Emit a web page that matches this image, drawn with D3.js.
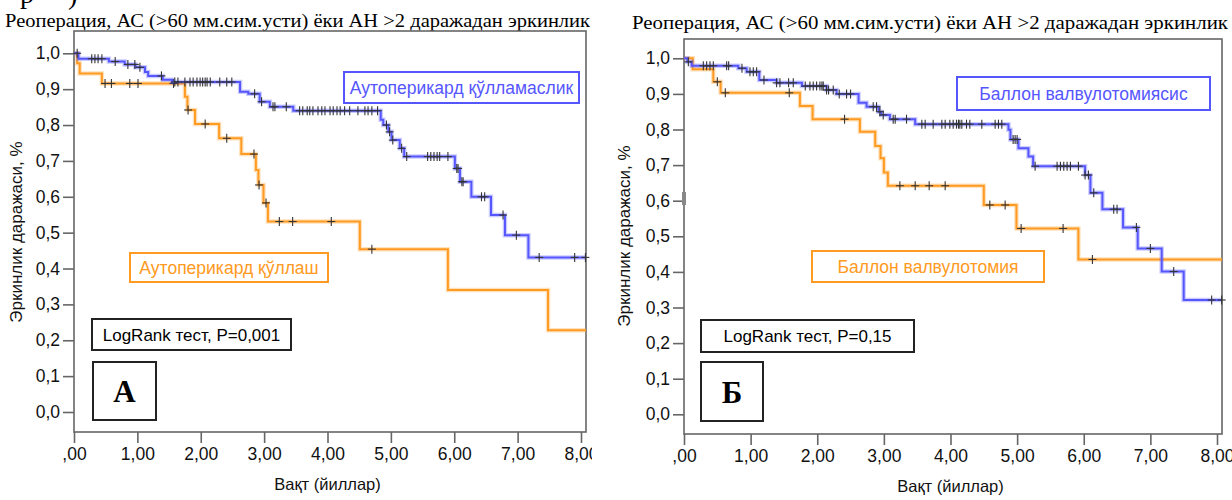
<!DOCTYPE html>
<html><head><meta charset="utf-8">
<script src="https://cdn.jsdelivr.net/npm/d3@7"></script>
<style>body{margin:0;background:#fff;} svg{display:block;}</style>
</head><body><svg id="c" width="1232" height="500"></svg>
<script>
// ---------- shared text / ticks ----------
const titleText = "Реоперация, АС (>60 мм.сим.усти) ёки АН >2 даражадан эркинлик";
const yTicks = [0, 0.1, 0.2, 0.3, 0.4, 0.5, 0.6, 0.7, 0.8, 0.9, 1.0];
const yTickLabels = ["0,0","0,1","0,2","0,3","0,4","0,5","0,6","0,7","0,8","0,9","1,0"];
const xTicks = [0, 1, 2, 3, 4, 5, 6, 7, 8];
const xTickLabels = [",00","1,00","2,00","3,00","4,00","5,00","6,00","7,00","8,00"];
const yAxisTitle = "Эркинлик даражаси, %";
const xAxisTitle = "Вақт (йиллар)";

// ---------- panel A ----------
const aBlueName = "Аутоперикард қўлламаслик";
const aOrangeName = "Аутоперикард қўллаш";
const aLogRank = "LogRank тест, P=0,001";
const aLetter = "А";
const aBlueTimes = [0.07, 0.55, 0.80, 0.97, 1.12, 1.17, 1.40, 1.55, 2.62, 2.75, 2.93, 3.09, 3.46, 4.84, 4.88, 4.96, 5.01, 5.14, 5.21, 6.01, 6.09, 6.27, 6.58, 6.80, 7.17];
const aBlueSurv  = [0.985, 0.977, 0.969, 0.961, 0.948, 0.937, 0.926, 0.920, 0.893, 0.887, 0.865, 0.851, 0.840, 0.815, 0.800, 0.781, 0.758, 0.735, 0.712, 0.679, 0.642, 0.600, 0.549, 0.493, 0.431];
const aBlueCens  = [0.05, 0.28, 0.33, 0.38, 0.44, 0.65, 0.85, 0.96, 1.04, 1.38, 1.59, 1.64, 1.75, 1.83, 1.88, 1.94, 1.99, 2.03, 2.07, 2.10, 2.15, 2.30, 2.41, 2.49, 2.85, 2.96, 3.14, 3.17, 3.35, 3.56, 3.61, 3.68, 3.72, 3.77, 3.85, 3.91, 3.96, 4.04, 4.09, 4.15, 4.20, 4.27, 4.35, 4.48, 4.59, 4.64, 4.70, 4.79, 4.93, 4.98, 5.03, 5.17, 5.25, 5.58, 5.63, 5.68, 5.73, 5.77, 5.90, 6.04, 6.06, 6.12, 6.14, 6.43, 6.48, 6.77, 6.98, 7.34, 7.90, 8.07];
const aOrangeTimes = [0.05, 0.09, 0.44, 1.75, 1.79, 1.91, 2.29, 2.64, 2.87, 2.91, 2.99, 3.06, 4.51, 5.90, 7.48];
const aOrangeSurv  = [0.972, 0.944, 0.916, 0.879, 0.842, 0.803, 0.763, 0.719, 0.675, 0.633, 0.583, 0.531, 0.454, 0.340, 0.228];
const aOrangeCens  = [0.49, 0.59, 0.88, 1.01, 1.57, 1.80, 2.07, 2.41, 2.84, 2.92, 3.03, 3.24, 3.45, 4.06, 4.70];

// ---------- panel B ----------
const bBlueName = "Баллон валвулотомиясис";
const bOrangeName = "Баллон валвулотомия";
const bLogRank = "LogRank тест, P=0,15";
const bLetter = "Б";
const bBlueTimes = [0.05, 0.115, 0.815, 0.94, 1.13, 1.39, 1.77, 2.14, 2.29, 2.62, 2.74, 2.92, 2.96, 3.09, 3.47, 4.87, 4.90, 5.02, 5.17, 5.24, 6.02, 6.10, 6.28, 6.59, 6.81, 7.17, 7.50];
const bBlueSurv  = [0.990, 0.979, 0.972, 0.962, 0.939, 0.931, 0.922, 0.911, 0.900, 0.875, 0.864, 0.850, 0.841, 0.829, 0.815, 0.799, 0.772, 0.747, 0.724, 0.697, 0.672, 0.622, 0.576, 0.525, 0.466, 0.401, 0.321];
const bBlueCens  = [0.065, 0.29, 0.34, 0.39, 0.44, 0.64, 0.67, 0.87, 0.99, 1.04, 1.09, 1.20, 1.39, 1.44, 1.57, 1.64, 1.82, 1.89, 1.94, 1.99, 2.04, 2.07, 2.09, 2.14, 2.17, 2.24, 2.33, 2.44, 2.50, 2.84, 2.89, 2.94, 2.99, 3.14, 3.17, 3.34, 3.57, 3.62, 3.74, 3.87, 3.92, 3.99, 4.04, 4.09, 4.12, 4.14, 4.17, 4.24, 4.29, 4.47, 4.67, 4.72, 4.77, 4.94, 4.97, 5.00, 5.27, 5.60, 5.65, 5.70, 5.75, 5.80, 5.92, 6.02, 6.07, 6.15, 6.45, 6.50, 6.79, 7.00, 7.35, 7.92, 8.07];
const bOrangeTimes = [0.13, 0.44, 0.55, 1.74, 1.93, 2.64, 2.87, 2.95, 3.00, 3.06, 4.50, 4.99, 5.92];
const bOrangeSurv  = [0.969, 0.934, 0.903, 0.866, 0.829, 0.794, 0.754, 0.719, 0.679, 0.642, 0.588, 0.522, 0.435];
const bOrangeCens  = [0.50, 0.62, 1.58, 2.41, 3.24, 3.47, 3.68, 3.92, 4.59, 4.82, 5.06, 5.69, 6.13];

// ---------- styles ----------
const BLUE = "#5656ff", ORANGE = "#ff9a22", AXIS = "#666", CENS = "#333";
const SANS = "'Liberation Sans', Arial, sans-serif";
const SERIF = "'Liberation Serif', 'Times New Roman', serif";

const svg = d3.select("#c");
const defs = svg.append("defs");
defs.append("clipPath").attr("id", "clipA").append("rect").attr("x", 0).attr("y", 0).attr("width", 592).attr("height", 500);

// partially visible heading at the very top-left
svg.append("text").attr("x", 20).attr("y", 3).attr("font-family", SERIF).attr("font-size", 28).attr("fill", "#000").text("р");
svg.append("text").attr("x", 68).attr("y", 4).attr("font-family", SERIF).attr("font-size", 28).attr("fill", "#000").text(")");

function panel(cfg) {
  const g = svg.append("g");
  if (cfg.clip) g.attr("clip-path", `url(#${cfg.clip})`);
  const x = d3.scaleLinear().domain([0, 8]).range([cfg.x0, cfg.x8]);
  const y = d3.scaleLinear().domain([0, 1]).range([cfg.y0, cfg.y1]);
  const tEnd = x.invert(cfg.right);

  // title
  g.append("text").attr("x", cfg.titleX).attr("y", cfg.titleY)
    .attr("font-family", SERIF).attr("font-size", 19).attr("fill", "#000")
    .attr("textLength", cfg.titleW).attr("lengthAdjust", "spacingAndGlyphs")
    .text(titleText);

  // frame
  g.append("rect").attr("x", cfg.x0).attr("y", cfg.top)
    .attr("width", cfg.right - cfg.x0).attr("height", cfg.bottom - cfg.top)
    .attr("fill", "none").attr("stroke", AXIS).attr("stroke-width", 1.6);

  // y axis
  const yAx = g.append("g").attr("transform", `translate(${cfg.x0},0)`)
    .call(d3.axisLeft(y).tickValues(yTicks).tickSize(11).tickPadding(3)
      .tickFormat((d, i) => yTickLabels[i]));
  yAx.select(".domain").remove();
  yAx.selectAll("line").attr("stroke", AXIS).attr("stroke-width", 1.6);
  yAx.selectAll("text").attr("font-family", SANS).attr("font-size", 17.5).attr("fill", "#111");

  // x axis
  const xAx = g.append("g").attr("transform", `translate(0,${cfg.bottom})`)
    .call(d3.axisBottom(x).tickValues(xTicks).tickSize(11).tickPadding(5)
      .tickFormat((d, i) => xTickLabels[i]));
  xAx.select(".domain").remove();
  xAx.selectAll("line").attr("stroke", AXIS).attr("stroke-width", 1.6);
  xAx.selectAll("text").attr("font-family", SANS).attr("font-size", 17.5).attr("fill", "#111");

  // axis titles
  g.append("text").attr("x", x(cfg.xTitleAt)).attr("y", cfg.bottom + 58)
    .attr("text-anchor", "middle").attr("font-family", SANS).attr("font-size", 16.5).attr("fill", "#111")
    .text(xAxisTitle);
  g.append("text").attr("transform", `translate(${cfg.yTitleX},${cfg.yTitleY}) rotate(-90)`)
    .attr("text-anchor", "middle").attr("font-family", SANS).attr("font-size", 17).attr("fill", "#111")
    .text(yAxisTitle);

  const line = d3.line().x(d => x(d[0])).y(d => y(d[1])).curve(d3.curveStepAfter);
  function series(times, surv, cens, color) {
    const pts = [[0, 1]];
    times.forEach((t, i) => pts.push([t, surv[i]]));
    pts.push([tEnd, surv[surv.length - 1]]);
    g.append("path").attr("d", line(pts)).attr("fill", "none")
      .attr("stroke", color).attr("stroke-opacity", 0.3).attr("stroke-width", 4.5);
    g.append("path").attr("d", line(pts)).attr("fill", "none")
      .attr("stroke", color).attr("stroke-width", 2);
    const sAt = t => { let s = 1; times.forEach((tt, i) => { if (tt <= t) s = surv[i]; }); return s; };
    const cg = g.append("g").attr("stroke", CENS).attr("stroke-width", 1.1);
    cens.forEach(t => {
      const cx = x(Math.min(t, tEnd)), cy = y(sAt(t));
      cg.append("line").attr("x1", cx).attr("x2", cx).attr("y1", cy - 4.5).attr("y2", cy + 4.5);
      cg.append("line").attr("x1", cx - 4).attr("x2", cx + 4).attr("y1", cy).attr("y2", cy);
    });
  }
  series(cfg.oT, cfg.oS, cfg.oC, ORANGE);
  series(cfg.bT, cfg.bS, cfg.bC, BLUE);

  function box(b, color, label, size, family, weight) {
    g.append("rect").attr("x", b[0]).attr("y", b[1]).attr("width", b[2] - b[0]).attr("height", b[3] - b[1])
      .attr("fill", "#fff").attr("stroke", color).attr("stroke-width", 2);
    g.append("text").attr("x", (b[0] + b[2]) / 2).attr("y", (b[1] + b[3]) / 2)
      .attr("dy", "0.36em").attr("text-anchor", "middle")
      .attr("font-family", family).attr("font-size", size).attr("font-weight", weight)
      .attr("fill", color === "#222" ? "#000" : color).text(label);
  }
  box(cfg.blueBox, BLUE, cfg.blueName, 17.5, SANS, "normal");
  box(cfg.orangeBox, ORANGE, cfg.orangeName, 17.5, SANS, "normal");
  box(cfg.lrBox, "#222", cfg.lr, 17, SANS, "normal");
  box(cfg.letterBox, "#222", cfg.letter, 31, SERIF, "bold");
  return g;
}

panel({
  clip: "clipA",
  x0: 74, x8: 581, right: 586, y0: 412, y1: 53.3, top: 31, bottom: 432,
  titleX: 5, titleY: 27, titleW: 585, xTitleAt: 4.0, yTitleX: 22, yTitleY: 232,
  bT: aBlueTimes, bS: aBlueSurv, bC: aBlueCens,
  oT: aOrangeTimes, oS: aOrangeSurv, oC: aOrangeCens,
  blueName: aBlueName, orangeName: aOrangeName, lr: aLogRank, letter: aLetter,
  blueBox: [344, 72, 579, 103], orangeBox: [130, 253, 328, 282],
  lrBox: [92, 319, 291, 350], letterBox: [93, 362, 156, 420]
});

const gB = panel({
  x0: 684, x8: 1217, right: 1222, y0: 414.3, y1: 58.3, top: 39, bottom: 434,
  titleX: 632, titleY: 29, titleW: 596, xTitleAt: 4.0, yTitleX: 630, yTitleY: 236,
  bT: bBlueTimes, bS: bBlueSurv, bC: bBlueCens,
  oT: bOrangeTimes, oS: bOrangeSurv, oC: bOrangeCens,
  blueName: bBlueName, orangeName: bOrangeName, lr: bLogRank, letter: bLetter,
  blueBox: [957, 77, 1210, 110], orangeBox: [812, 251, 1044, 282],
  lrBox: [701, 320, 914, 352], letterBox: [701, 362, 763, 421]
});
// small stray mark on the right panel's y axis
gB.append("line").attr("x1", 684).attr("x2", 684).attr("y1", 192).attr("y2", 205)
  .attr("stroke", "#888").attr("stroke-width", 4);
</script></body></html>
